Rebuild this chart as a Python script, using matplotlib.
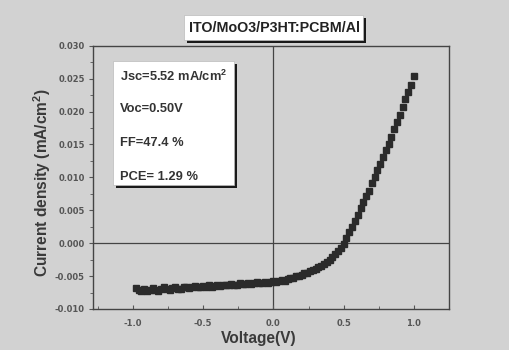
import numpy as np
import matplotlib
matplotlib.use('Agg')
import matplotlib.pyplot as plt
from matplotlib.patches import Rectangle
from matplotlib.ticker import MultipleLocator, FormatStrFormatter

# Curva J-V
voltagem = [-0.98, -0.96, -0.94, -0.92, -0.90, -0.88, -0.86, -0.84, -0.82, -0.80,
            -0.78, -0.76, -0.74, -0.72, -0.70, -0.68, -0.66, -0.64, -0.62, -0.60,
            -0.58, -0.56, -0.54, -0.52, -0.50, -0.48, -0.46, -0.44, -0.42, -0.40,
            -0.38, -0.36, -0.34, -0.32, -0.30, -0.28, -0.26, -0.24, -0.22, -0.20,
            -0.18, -0.16, -0.14, -0.12, -0.10, -0.08, -0.06, -0.04, -0.02, 0.00,
            0.02, 0.04, 0.06, 0.08, 0.10, 0.12, 0.14, 0.16, 0.18, 0.20,
            0.22, 0.24, 0.26, 0.28, 0.30, 0.32, 0.34, 0.36, 0.38, 0.40,
            0.42, 0.44, 0.46, 0.48, 0.50, 0.52, 0.54, 0.56, 0.58, 0.60,
            0.62, 0.64, 0.66, 0.68, 0.70, 0.72, 0.74, 0.76, 0.78, 0.80,
            0.82, 0.84, 0.86, 0.88, 0.90, 0.92, 0.94, 0.96, 0.98, 1.00]
densidade = [-0.0068, -0.0071, -0.0072, -0.0070, -0.0073, -0.0071, -0.0068, -0.0071, -0.0072, -0.0069,
             -0.0067, -0.0070, -0.0071, -0.0068, -0.0067, -0.0070, -0.0069, -0.0066, -0.0066, -0.0068,
             -0.0067, -0.0065, -0.0066, -0.0067, -0.0065, -0.0066, -0.0064, -0.0066, -0.0065, -0.0063,
             -0.0065, -0.0064, -0.0063, -0.0064, -0.0062, -0.0063, -0.0063, -0.0061, -0.0062, -0.0062,
             -0.0060, -0.0062, -0.0061, -0.0059, -0.0061, -0.0060, -0.0059, -0.0061, -0.0059, -0.0058,
             -0.0059, -0.0057, -0.0056, -0.0057, -0.0054, -0.0053, -0.0053, -0.0050, -0.0050, -0.0048,
             -0.0046, -0.0045, -0.0043, -0.0041, -0.0039, -0.0036, -0.0034, -0.0031, -0.0028, -0.0025,
             -0.0021, -0.0017, -0.0012, -0.0007, -0.0001, 0.0008, 0.0017, 0.0025, 0.0034, 0.0043,
             0.0053, 0.0062, 0.0071, 0.0080, 0.0091, 0.0101, 0.0111, 0.0121, 0.0131, 0.0141,
             0.0151, 0.0162, 0.0174, 0.0184, 0.0194, 0.0207, 0.0219, 0.0229, 0.0241, 0.0254]

parametros = ['Jsc=5.52 mA/cm$^\\mathregular{2}$', 'Voc=0.50V', 'FF=47.4 %', 'PCE= 1.29 %']
titulo = 'ITO/MoO3/P3HT:PCBM/Al'

W, H = 509, 350
fundo = '#d2d2d2'
plt.rcParams['font.family'] = ['Liberation Sans', 'DejaVu Sans']
plt.rcParams['font.weight'] = 'bold'

fig = plt.figure(figsize=(W / 100, H / 100), dpi=100, facecolor=fundo)
ax = fig.add_axes([93 / W, 1 - 309 / H, (449 - 93) / W, (309 - 45.7) / H])
ax.set_facecolor(fundo)

# eixos de referencia em V=0 e J=0
ax.axvline(0, color='#444444', lw=0.9, zorder=1)
ax.axhline(0, color='#444444', lw=0.9, zorder=1)

ax.plot(voltagem, densidade, linestyle='none', marker='s', markersize=4.3,
        color='#2b2b2b', zorder=3)

ax.set_xlim(-1.285, 1.25)
ax.set_ylim(-0.010, 0.030)
ax.xaxis.set_major_locator(MultipleLocator(0.5))
ax.xaxis.set_minor_locator(MultipleLocator(0.25))
ax.yaxis.set_major_locator(MultipleLocator(0.005))
ax.yaxis.set_minor_locator(MultipleLocator(0.0025))
ax.xaxis.set_major_formatter(FormatStrFormatter('%.1f'))
ax.yaxis.set_major_formatter(FormatStrFormatter('%.3f'))
ax.tick_params(axis='x', direction='in', length=3, width=0.8, labelsize=6,
               labelcolor='#555555', color='#555555', pad=7)
ax.tick_params(axis='x', which='minor', direction='in', length=2, width=0.6, color='#555555')
ax.tick_params(axis='y', direction='out', length=3, width=0.8, labelsize=6,
               labelcolor='#555555', color='#555555', pad=3)
ax.tick_params(axis='y', which='minor', direction='out', length=2, width=0.6, color='#555555')
for lab in ax.get_xticklabels() + ax.get_yticklabels():
    lab.set_family('DejaVu Sans')
for s in ax.spines.values():
    s.set_color('#444444')
    s.set_linewidth(1.0)

fig.text(259 / W, 1 - 339 / H, 'Voltage(V)', ha='center', va='center',
         fontsize=11.2, fontweight='bold', color='#3a3a3a')
fig.text(42 / W, 1 - 183 / H, 'Current density (mA/cm$^\\mathregular{2}$)', ha='center',
         va='center', rotation=90, fontsize=11.2, fontweight='bold', color='#3a3a3a')

def caixa(x0, y0, x1, y1):
    # sombra preta deslocada e caixa branca por cima
    fig.patches.append(Rectangle((x0 / W + 3 / W, 1 - y1 / H - 3 / H), (x1 - x0) / W,
                                 (y1 - y0) / H, transform=fig.transFigure,
                                 facecolor='#1a1a1a', edgecolor='none', zorder=5))
    fig.patches.append(Rectangle((x0 / W, 1 - y1 / H), (x1 - x0) / W, (y1 - y0) / H,
                                 transform=fig.transFigure, facecolor='white',
                                 edgecolor='#bbbbbb', lw=0.5, zorder=6))

caixa(113, 61, 234, 185)
for i, txt in enumerate(parametros):
    fig.text(120 / W, 1 - (76 + i * 33.5) / H, txt, ha='left', va='center',
             fontsize=9.3, fontweight='bold', color='#333333', zorder=7)

caixa(184, 15, 363, 40)
fig.text(274 / W, 1 - 28 / H, titulo, ha='center', va='center',
         fontsize=10.3, fontweight='bold', color='#222222', zorder=7)

fig.savefig('out.png', dpi=100, facecolor=fundo)
